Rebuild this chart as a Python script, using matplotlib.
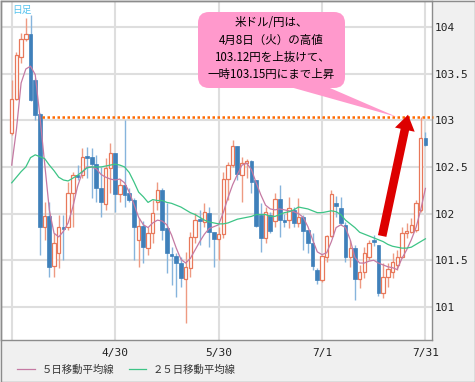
import matplotlib
matplotlib.use("Agg")
import matplotlib.pyplot as plt
from matplotlib.patches import FancyBboxPatch, Polygon, Rectangle

# USD/JPY daily candles, 3/31 .. 7/31 (index 0..88)
opens = [102.86, 103.23, 103.68, 103.87, 103.93, 103.43, 103.07, 101.86, 101.97, 101.44,
         101.58, 101.86, 101.86, 102.22, 102.41, 102.41, 102.62, 102.61, 102.53, 102.27,
         102.10, 102.49, 102.65, 102.21, 102.31, 102.22, 102.15, 101.72, 101.87, 101.63,
         101.79, 102.12, 102.25, 101.85, 101.57, 101.55, 101.47, 101.30, 101.42, 101.75,
         101.94, 101.91, 102.01, 101.80, 101.73, 101.78, 102.37, 102.52, 102.72, 102.41,
         102.54, 102.56, 102.36, 101.98, 101.74, 101.98, 101.92, 102.16, 101.93, 101.93,
         102.04, 101.90, 101.96, 101.82, 101.68, 101.40, 101.29, 101.54, 101.76, 102.11,
         102.06, 101.88, 101.54, 101.63, 101.30, 101.37, 101.54, 101.72, 101.66, 101.15,
         101.32, 101.37, 101.45, 101.54, 101.79, 101.80, 101.82, 102.04, 102.81]
highs = [103.43, 103.73, 103.94, 104.10, 104.13, 103.45, 103.08, 102.12, 102.12, 101.79,
         101.99, 101.99, 102.34, 102.45, 102.52, 102.70, 102.71, 102.70, 102.63, 102.50,
         102.60, 102.76, 102.65, 102.37, 103.00, 102.27, 102.17, 101.95, 101.92, 101.86,
         102.15, 102.34, 102.27, 102.11, 101.64, 101.58, 101.53, 101.59, 101.80, 102.01,
         102.04, 102.11, 102.07, 101.80, 101.86, 102.45, 102.55, 102.79, 102.72, 102.61,
         102.58, 102.57, 102.36, 102.11, 102.07, 102.02, 102.22, 102.31, 102.00, 102.18,
         102.07, 102.17, 101.99, 101.82, 101.79, 101.42, 101.56, 101.77, 102.25, 102.19,
         102.18, 101.91, 101.72, 101.66, 101.45, 101.64, 101.72, 101.77, 101.66, 101.47,
         101.47, 101.58, 101.61, 101.86, 101.90, 101.95, 102.15, 103.04, 102.88]
lows = [102.84, 103.22, 103.61, 103.85, 103.21, 103.00, 101.56, 101.72, 101.32, 101.32,
        101.42, 101.50, 101.82, 101.86, 102.36, 102.38, 102.38, 102.17, 102.12, 101.96,
        102.04, 102.22, 102.02, 102.12, 102.07, 102.12, 101.50, 101.43, 101.47, 101.56,
        101.69, 102.04, 101.72, 101.36, 101.23, 101.11, 101.21, 100.83, 101.32, 101.69,
        101.66, 101.86, 101.64, 101.43, 101.50, 101.74, 102.15, 102.50, 102.36, 102.12,
        102.38, 102.22, 101.86, 101.59, 101.69, 101.79, 101.86, 101.75, 101.86, 101.85,
        101.86, 101.86, 101.61, 101.58, 101.40, 101.24, 101.27, 101.48, 101.75, 101.96,
        101.88, 101.48, 101.43, 101.07, 101.20, 101.31, 101.50, 101.65, 101.12, 101.09,
        101.21, 101.31, 101.40, 101.52, 101.74, 101.79, 101.80, 102.02, 102.72]
closes = [103.23, 103.70, 103.87, 103.93, 103.22, 103.06, 101.86, 101.97, 101.43, 101.69,
          101.86, 101.84, 102.22, 102.41, 102.39, 102.61, 102.60, 102.53, 102.27, 102.12,
          102.49, 102.65, 102.21, 102.31, 102.20, 102.15, 101.86, 101.87, 101.64, 101.79,
          102.01, 102.25, 101.82, 101.58, 101.55, 101.47, 101.31, 101.43, 101.75, 101.93,
          101.92, 102.02, 101.80, 101.73, 101.78, 102.37, 102.52, 102.72, 102.42, 102.54,
          102.56, 102.34, 101.87, 101.74, 102.02, 101.81, 102.16, 101.93, 101.91, 102.06,
          101.90, 101.96, 101.81, 101.68, 101.44, 101.29, 101.55, 101.76, 102.21, 102.08,
          101.90, 101.54, 101.63, 101.30, 101.37, 101.58, 101.69, 101.70, 101.15, 101.32,
          101.41, 101.48, 101.54, 101.79, 101.81, 101.88, 102.11, 102.81, 102.74]

ma5 = [102.52, 102.90, 103.40, 103.55, 103.58, 103.49, 103.04, 102.54, 102.04, 101.79,
       101.75, 101.81, 101.90, 102.07, 102.29, 102.44, 102.50, 102.50, 102.48, 102.42,
       102.39, 102.37, 102.36, 102.37, 102.33, 102.23, 102.10, 101.96, 101.88, 101.85,
       101.90, 101.93, 101.92, 101.88, 101.77, 101.63, 101.51, 101.47, 101.52, 101.61,
       101.70, 101.78, 101.84, 101.86, 101.88, 102.01, 102.17, 102.31, 102.42, 102.52,
       102.54, 102.47, 102.33, 102.20, 102.09, 102.05, 102.04, 102.05, 102.04, 102.03,
       102.02, 102.00, 101.96, 101.86, 101.72, 101.59, 101.56, 101.58, 101.70, 101.85,
       101.88, 101.85, 101.72, 101.53, 101.47, 101.47, 101.49, 101.50, 101.47, 101.45,
       101.43, 101.42, 101.40, 101.52, 101.61, 101.72, 101.85, 102.04, 102.27]
ma25 = [102.33, 102.39, 102.45, 102.50, 102.60, 102.63, 102.61, 102.59, 102.52, 102.46,
        102.39, 102.36, 102.35, 102.38, 102.41, 102.45, 102.49, 102.50, 102.50, 102.50,
        102.51, 102.52, 102.53, 102.52, 102.50, 102.44, 102.34, 102.23, 102.18, 102.12,
        102.15, 102.14, 102.14, 102.12, 102.11, 102.09, 102.07, 102.04, 102.01, 101.99,
        101.96, 101.93, 101.91, 101.90, 101.89, 101.89, 101.90, 101.92, 101.94, 101.95,
        101.96, 101.97, 101.99, 101.99, 101.99, 101.97, 101.97, 101.99, 102.01, 102.02,
        102.04, 102.07, 102.06, 102.05, 102.03, 102.01, 102.01, 102.02, 102.03, 102.02,
        101.99, 101.93, 101.89, 101.85, 101.80, 101.78, 101.76, 101.74, 101.72, 101.70,
        101.67, 101.65, 101.64, 101.63, 101.63, 101.64, 101.67, 101.70, 101.73]

date_ticks = [0, 22, 44, 66, 88]
date_labels = ['', '4/30', '5/30', '7/1', '7/31']
price_ticks = [101, 101.5, 102, 102.5, 103, 103.5, 104]
price_labels = ['101', '101.5', '102', '102.5', '103', '103.5', '104']
prev_high = 103.04

callout = ['米ドル/円は、', '4月8日（火）の高値', '103.12円を上抜けて、', '一時103.15円にまで上昇']
legend_labels = ['５日移動平均線', '２５日移動平均線']

CJK = ['Noto Sans CJK JP', 'DejaVu Sans']
UP_EDGE = '#e8785a'
UP_WICK = '#ee9a82'
DN_BODY = '#3f80ba'
DN_WICK = '#86b4dc'

fig = plt.figure(figsize=(4.75, 3.82), dpi=100)
fig.patch.set_facecolor('#f0f0f0')
ax = fig.add_axes([1 / 475, 1 - 340 / 382, 431 / 475, 339 / 382])
ax.set_facecolor('white')

n = len(closes)
xs = list(range(n))

# grid
for t in price_ticks:
    ax.axhline(t, color='#dedede', lw=1.5, zorder=0)
for t in date_ticks:
    ax.axvline(t, color='#dedede', lw=1.5, zorder=0)

# candles
for i in xs:
    o, h, l, c = opens[i], highs[i], lows[i], closes[i]
    up = c >= o
    ax.vlines(i, l, h, color=UP_WICK if up else DN_WICK, lw=1.0, zorder=2)
    bot = min(o, c)
    hgt = max(abs(c - o), 0.015)
    if up:
        ax.bar(i, hgt, bottom=bot, width=0.72, facecolor='white', edgecolor=UP_EDGE,
               lw=0.9, zorder=3)
    else:
        ax.bar(i, hgt, bottom=bot, width=0.8, facecolor=DN_BODY, edgecolor=DN_BODY,
               lw=0.5, zorder=3)

l5, = ax.plot(xs, ma5, color='#c57aa3', lw=0.9, zorder=4, label=legend_labels[0])
l25, = ax.plot(xs, ma25, color='#3dc486', lw=0.9, zorder=4, label=legend_labels[1])

# previous high (dotted)
ax.plot([6.4, 89.6], [prev_high, prev_high], color='#ff6a00', lw=1.8,
        linestyle=(0, (1, 1)), zorder=5, clip_on=False)

ax.set_xlim(-2.28, 89.4)
ax.set_ylim(100.645, 104.279)

ax.yaxis.tick_right()
ax.set_yticks(price_ticks)
ax.set_yticklabels(price_labels, family='DejaVu Sans Mono', fontsize=8, color='#222222')
ax.set_xticks(date_ticks)
ax.set_xticklabels(date_labels, family='DejaVu Sans Mono', fontsize=8, color='#222222')
ax.tick_params(axis='y', length=0, pad=2)
ax.tick_params(axis='x', length=0, pad=6)
for s in ax.spines.values():
    s.set_color('#8c8c8c')
    s.set_linewidth(1)

# red arrow
ax.annotate('', xy=(84.3, 103.06), xytext=(78.8, 101.76),
            arrowprops=dict(arrowstyle='simple,head_width=1.45,head_length=1.1,tail_width=0.62',
                            mutation_scale=10, color='#dd0000', lw=0, shrinkA=0, shrinkB=0),
            zorder=6)

# overlay in pixel coordinates
ov = fig.add_axes([0, 0, 1, 1], zorder=10)
ov.set_xlim(0, 475)
ov.set_ylim(382, 0)
ov.axis('off')
ov.patch.set_alpha(0)

ov.text(22, 10, '日足', family=CJK, fontsize=7, color='#55c3ee', ha='center', va='center')

pink = '#ff99cc'
ov.add_patch(Polygon([(283, 85), (323, 85), (397, 117)], closed=True, facecolor=pink,
                     edgecolor='none'))
ov.add_patch(FancyBboxPatch((198, 12), 147, 76, boxstyle='round,pad=0,rounding_size=11',
                            facecolor=pink, edgecolor='none'))
for k, line in enumerate(callout):
    ov.text(271.5, 23 + k * 17.3, line, family=CJK, fontsize=8.3, color='black',
            ha='center', va='center')

ov.add_patch(Rectangle((0.5, 0.5), 474, 381, fill=False, edgecolor='#8c8c8c', lw=1))

leg = fig.legend(handles=[l5, l25], labels=legend_labels, loc='center left',
                 bbox_to_anchor=(8 / 475, 1 - 370 / 382), ncol=2, frameon=False,
                 handlelength=1.7, columnspacing=1.4, handletextpad=0.6,
                 prop={'family': CJK, 'size': 7.5})
for t in leg.get_texts():
    t.set_color('#333333')

fig.savefig('out.png', dpi=100, facecolor=fig.get_facecolor())
